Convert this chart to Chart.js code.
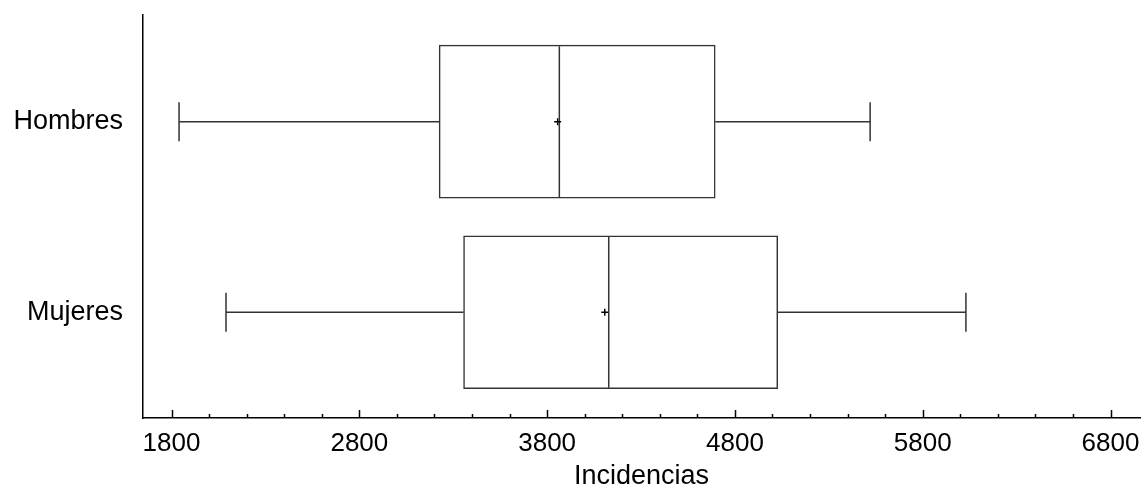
<!DOCTYPE html>
<html>
<head>
<meta charset="utf-8">
<script src="https://cdn.jsdelivr.net/npm/chart.js@4/dist/chart.umd.min.js"></script>
<style>
    html, body { margin: 0; padding: 0; background: #fff; }
    #wrap { width: 1147px; height: 493px; }
</style>
</head>
<body>
<div id="wrap"><canvas id="box"></canvas></div>
<script>
const categories = ['Hombres', 'Mujeres']
const mins = [1840, 2090]
const q1s = [3225, 3355]
const medians = [3865, 4128]
const means = [3856, 4107]
const q3s = [4695, 5028]
const maxs = [5520, 6030]
const majorTicks = [1800, 2800, 3800, 4800, 5800, 6800]

const lineColor = '#333'
const boxThickness = 153
const capHalf = 19.5

const minorTicks = []
for (let v = 1800; v <= 6800; v += 200) minorTicks.push(v)

const boxPlotExtras = {
    id: 'boxPlotExtras',
    afterDatasetDraw(chart, args) {
        if (args.index !== 0) return
        const {ctx, scales: {x, y}} = chart
        ctx.save()
        ctx.strokeStyle = lineColor
        ctx.lineWidth = 1.5
        categories.forEach((c, i) => {
            const cy = y.getPixelForValue(i)
            const half = boxThickness / 2
            ctx.beginPath()
            // whiskers
            ctx.moveTo(x.getPixelForValue(mins[i]), cy)
            ctx.lineTo(x.getPixelForValue(q1s[i]), cy)
            ctx.moveTo(x.getPixelForValue(q3s[i]), cy)
            ctx.lineTo(x.getPixelForValue(maxs[i]), cy)
            // caps
            ctx.moveTo(x.getPixelForValue(mins[i]), cy - capHalf)
            ctx.lineTo(x.getPixelForValue(mins[i]), cy + capHalf)
            ctx.moveTo(x.getPixelForValue(maxs[i]), cy - capHalf)
            ctx.lineTo(x.getPixelForValue(maxs[i]), cy + capHalf)
            // median
            ctx.moveTo(x.getPixelForValue(medians[i]), cy - half + 1)
            ctx.lineTo(x.getPixelForValue(medians[i]), cy + half - 1)
            ctx.stroke()
        })
        ctx.restore()
    },
    afterDraw(chart) {
        const {ctx, scales: {x}, chartArea} = chart
        ctx.save()
        ctx.strokeStyle = '#000'
        ctx.lineWidth = 1.5
        ctx.beginPath()
        minorTicks.forEach(v => {
            const px = Math.round(x.getPixelForValue(v)) + 0.5
            const len = majorTicks.includes(v) ? 8 : 4
            ctx.moveTo(px, chartArea.bottom)
            ctx.lineTo(px, chartArea.bottom - len)
        })
        ctx.stroke()
        ctx.restore()
    }
}

const config = {
    type: 'bar',
    data: {
        datasets: [
            {
                label: 'Caja',
                order: 1,
                data: categories.map((c, i) => ({y: i, x: [q1s[i], q3s[i]]})),
                backgroundColor: '#fff',
                borderColor: lineColor,
                borderWidth: 1.5,
                borderSkipped: false,
                barThickness: boxThickness,
            },
            {
                label: 'Media',
                type: 'scatter',
                order: 0,
                data: categories.map((c, i) => ({x: means[i], y: i})),
                pointStyle: 'cross',
                radius: 3.5,
                borderColor: '#000',
                borderWidth: 1.5,
            },
        ],
    },
    options: {
        indexAxis: 'y',
        responsive: true,
        maintainAspectRatio: false,
        animation: false,
        layout: {padding: {top: 15, right: 7, bottom: 0, left: 0}},
        plugins: {
            legend: {display: false},
            tooltip: {enabled: false},
        },
        scales: {
            x: {
                type: 'linear',
                min: 1648,
                max: 6957,
                offset: false,
                grid: {display: false, drawTicks: false},
                border: {display: true, color: '#000', width: 1.5},
                afterBuildTicks: scale => { scale.ticks = minorTicks.map(v => ({value: v})) },
                afterFit: scale => {
                    scale.height = 75
                    scale.paddingLeft = 0
                    scale.paddingRight = 0
                },
                ticks: {
                    autoSkip: false,
                    maxRotation: 0,
                    padding: 10,
                    color: '#000',
                    font: {family: 'Liberation Sans', size: 26},
                    callback: v => majorTicks.includes(v) ? String(v) : '',
                },
                title: {
                    display: true,
                    text: 'Incidencias',
                    color: '#000',
                    font: {family: 'Liberation Sans', size: 27},
                    padding: {top: 0, bottom: 0},
                },
            },
            y: {
                type: 'linear',
                min: -0.56,
                max: 1.555,
                offset: false,
                reverse: true,
                grid: {display: false, drawTicks: false},
                border: {display: true, color: '#000', width: 1.5},
                afterBuildTicks: scale => { scale.ticks = categories.map((c, i) => ({value: i})) },
                afterFit: scale => {
                    scale.width = 143
                    scale.paddingTop = 0
                    scale.paddingBottom = 0
                },
                ticks: {
                    padding: 20,
                    color: '#000',
                    font: {family: 'Liberation Sans', size: 27},
                    callback: v => categories[v],
                },
            },
        },
    },
    plugins: [boxPlotExtras],
}

new Chart(document.getElementById('box'), config)
</script>
</body>
</html>
